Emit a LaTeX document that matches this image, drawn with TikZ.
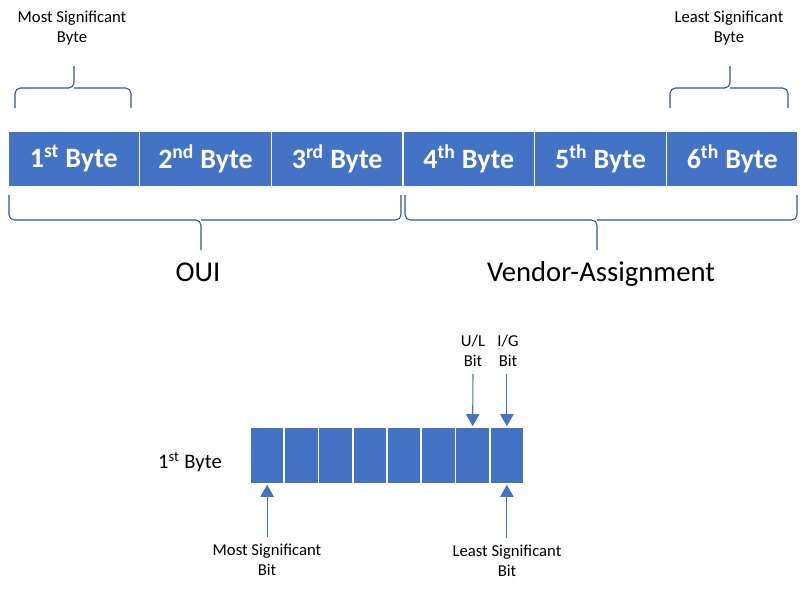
\documentclass[tikz,border=0pt]{standalone}
\usepackage{fontspec}
\setmainfont{Carlito}
\usetikzlibrary{arrows.meta}
\definecolor{byteblue}{RGB}{68,114,196}
\definecolor{bracketblue}{RGB}{47,85,151}
\begin{document}
\begin{tikzpicture}[x=0.75pt,y=0.75pt,yscale=-1,xscale=1,
	bytebox/.style={fill=byteblue,draw=white,line width=1.2pt,inner sep=0,minimum width=98.75pt,minimum height=42pt,text=white,font=\fontsize{21}{25}\selectfont\bfseries},
	bitbox/.style={fill=byteblue,draw=white,line width=1.2pt,inner sep=0,minimum width=25.69pt,minimum height=42.75pt},
	bracket/.style={draw=bracketblue,line width=0.8pt,rounded corners=4pt},
	bitarrow/.style={draw=byteblue,line width=0.8pt,-{Triangle[width=10pt,length=9pt]}},
	label/.style={align=center,inner sep=2pt,font=\fontsize{12.5}{15}\selectfont}]
	\useasboundingbox (0,0) rectangle (803,592);

	% Bytes
	\foreach \i/\suf in {1/st,2/nd,3/rd,4/th,5/th,6/th}
		\node[bytebox] (byte\i) at ({8+131.67*(\i-0.5)},159) {\i\textsuperscript{\suf} Byte};

	%Shape: Brace
	\draw[bracket] (15,108) |- (74,88) -- (74,66);
	\draw[bracket] (131,108) |- (74,88);
	%Shape: Brace
	\draw[bracket] (670,108) |- (730,88) -- (730,66);
	\draw[bracket] (788,108) |- (730,88);
	%Shape: Brace
	\draw[bracket] (9,195) |- (201,220) -- (201,250);
	\draw[bracket] (401,195) |- (201,220);
	%Shape: Brace
	\draw[bracket] (405,195) |- (597,220) -- (597,250);
	\draw[bracket] (797,195) |- (597,220);

	% Text Node
	\node[label] (msbyte) at (72,28) {Most Significant\\Byte};
	% Text Node
	\node[label] (lsbyte) at (729,28) {Least Significant\\Byte};
	% Text Node
	\node[font=\fontsize{21.5}{26}\selectfont] (oui) at (198,272) {OUI};
	% Text Node
	\node[font=\fontsize{21.5}{26}\selectfont] (vendor) at (601,274) {Vendor-Assignment};

	% Bits of the first byte
	\foreach \i in {1,...,8}
		\node[bitbox] (bit\i) at ({250+34.25*(\i-0.5)},455.5) {};

	% Text Node
	\node[font=\fontsize{15.5}{18}\selectfont] (firstbyte) at (190,462) {1\textsuperscript{st} Byte};
	% Text Node
	\node[label,inner sep=5pt] (ulbit) at (473,351) {U/L\\Bit};
	% Text Node
	\node[label,inner sep=5pt] (igbit) at (508,351) {I/G\\Bit};
	% Text Node
	\node[label,inner sep=5pt] (msbit) at (267,560) {Most Significant\\Bit};
	% Text Node
	\node[label,inner sep=5pt] (lsbit) at (507,561) {Least Significant\\Bit};

	%Straight Lines
	\draw[bitarrow] (ulbit.south) -- (bit7.north);
	\draw[bitarrow] (igbit.south -| bit8.north) -- (bit8.north);
	\draw[bitarrow] (msbit.north -| bit1.south) -- (bit1.south);
	\draw[bitarrow] (lsbit.north -| bit8.south) -- (bit8.south);
\end{tikzpicture}
\end{document}
